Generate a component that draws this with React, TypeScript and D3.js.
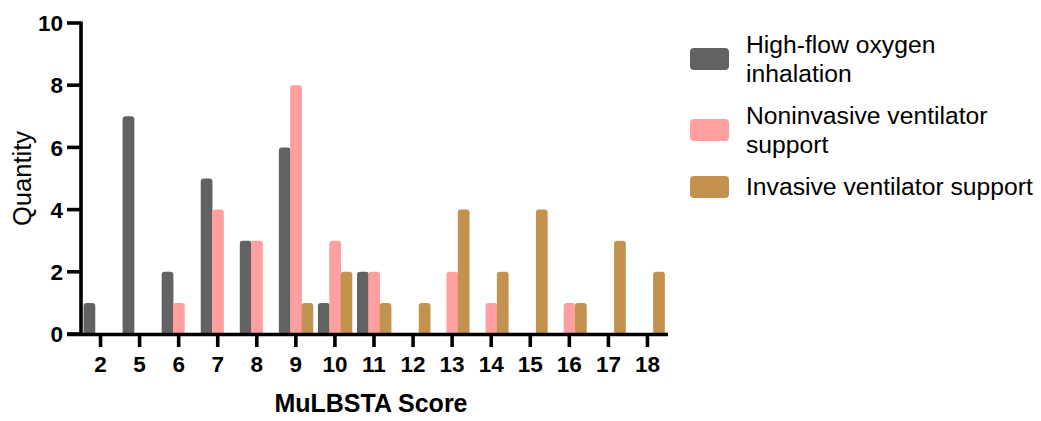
import React from "react";
import * as d3 from "d3";

const categories = ["2", "5", "6", "7", "8", "9", "10", "11", "12", "13", "14", "15", "16", "17", "18"];
const highFlow = [1, 7, 2, 5, 3, 6, 1, 2, 0, 0, 0, 0, 0, 0, 0];
const noninvasive = [0, 0, 1, 4, 3, 8, 3, 2, 0, 2, 1, 0, 1, 0, 0];
const invasive = [0, 0, 0, 0, 0, 1, 2, 1, 1, 4, 2, 4, 1, 3, 2];
const seriesNames = ["High-flow oxygen inhalation", "Noninvasive ventilator support", "Invasive ventilator support"];
const legendLines = [["High-flow oxygen", "inhalation"], ["Noninvasive ventilator", "support"], ["Invasive ventilator support"]];
const colors = ["#626262", "#FF9F9F", "#C4924F"];
const yTicks = [0, 2, 4, 6, 8, 10];

const FONT = "'Liberation Sans', Arial, Helvetica, sans-serif";

function topRoundedRect(x: number, y: number, w: number, h: number, r: number) {
  if (h <= 0) return "";
  const rr = Math.min(r, w / 2, h);
  return `M${x},${y + h}V${y + rr}Q${x},${y} ${x + rr},${y}H${x + w - rr}Q${x + w},${y} ${x + w},${y + rr}V${y + h}Z`;
}

export default function App() {
  const W = 1041, H = 421;
  const x0 = 81, x1 = 667, yTop = 23, yBot = 334;
  const x = d3.scaleBand<string>().domain(categories).range([x0, x1]).paddingInner(0.13).paddingOuter(0.065);
  const sub = d3.scaleBand<string>().domain(seriesNames).range([0, x.bandwidth()]);
  const y = d3.scaleLinear().domain([0, 10]).range([yBot, yTop]);
  const allSeries = [highFlow, noninvasive, invasive];

  return (
    <svg width={W} height={H} style={{ position: "absolute", left: 0, top: 0, background: "#fff" }} fontFamily={FONT}>
      {allSeries.map((vals, si) => (
        <g key={si} fill={colors[si]}>
          {vals.map((v, ci) => {
            const bx = (x(categories[ci]) as number) + (sub(seriesNames[si]) as number);
            const bw = sub.bandwidth() + 0.4;
            const by = y(v);
            return v > 0 ? <path key={ci} d={topRoundedRect(bx, by, bw, yBot - by, 3)} /> : null;
          })}
        </g>
      ))}
      <line x1={81} x2={81} y1={yTop - 1.5} y2={yBot + 1.8} stroke="#000" strokeWidth={3.6} />
      {yTicks.map((t) => (
        <g key={t}>
          <line x1={67} x2={81} y1={y(t)} y2={y(t)} stroke="#000" strokeWidth={3.6} />
          <text x={63} y={y(t)} dy="0.36em" textAnchor="end" fontSize={22.5} fontWeight="bold">{t}</text>
        </g>
      ))}
      <line x1={67} x2={668} y1={yBot + 0.5} y2={yBot + 0.5} stroke="#000" strokeWidth={3.6} />
      {categories.map((c) => {
        const cx = (x(c) as number) + x.bandwidth() / 2;
        return (
          <g key={c}>
            <line x1={cx} x2={cx} y1={yBot} y2={yBot + 13} stroke="#000" strokeWidth={3.6} />
            <text x={cx} y={372} textAnchor="middle" fontSize={22.5} fontWeight="bold">{c}</text>
          </g>
        );
      })}
      <text x={371} y={412} textAnchor="middle" fontSize={25} fontWeight="bold">MuLBSTA Score</text>
      <text transform={`translate(31,${(yTop + yBot) / 2}) rotate(-90)`} textAnchor="middle" fontSize={25.5}>Quantity</text>
      {legendLines.map((lines, i) => {
        const swY = [48, 119, 176][i];
        const textY = [53, 124, 195][i];
        return (
          <g key={i}>
            <rect x={690} y={swY} width={39} height={22} rx={4} fill={colors[i]} />
            {lines.map((ln, li) => (
              <text key={li} x={746} y={textY + li * 28.5} fontSize={24.7}>{ln}</text>
            ))}
          </g>
        );
      })}
    </svg>
  );
}
